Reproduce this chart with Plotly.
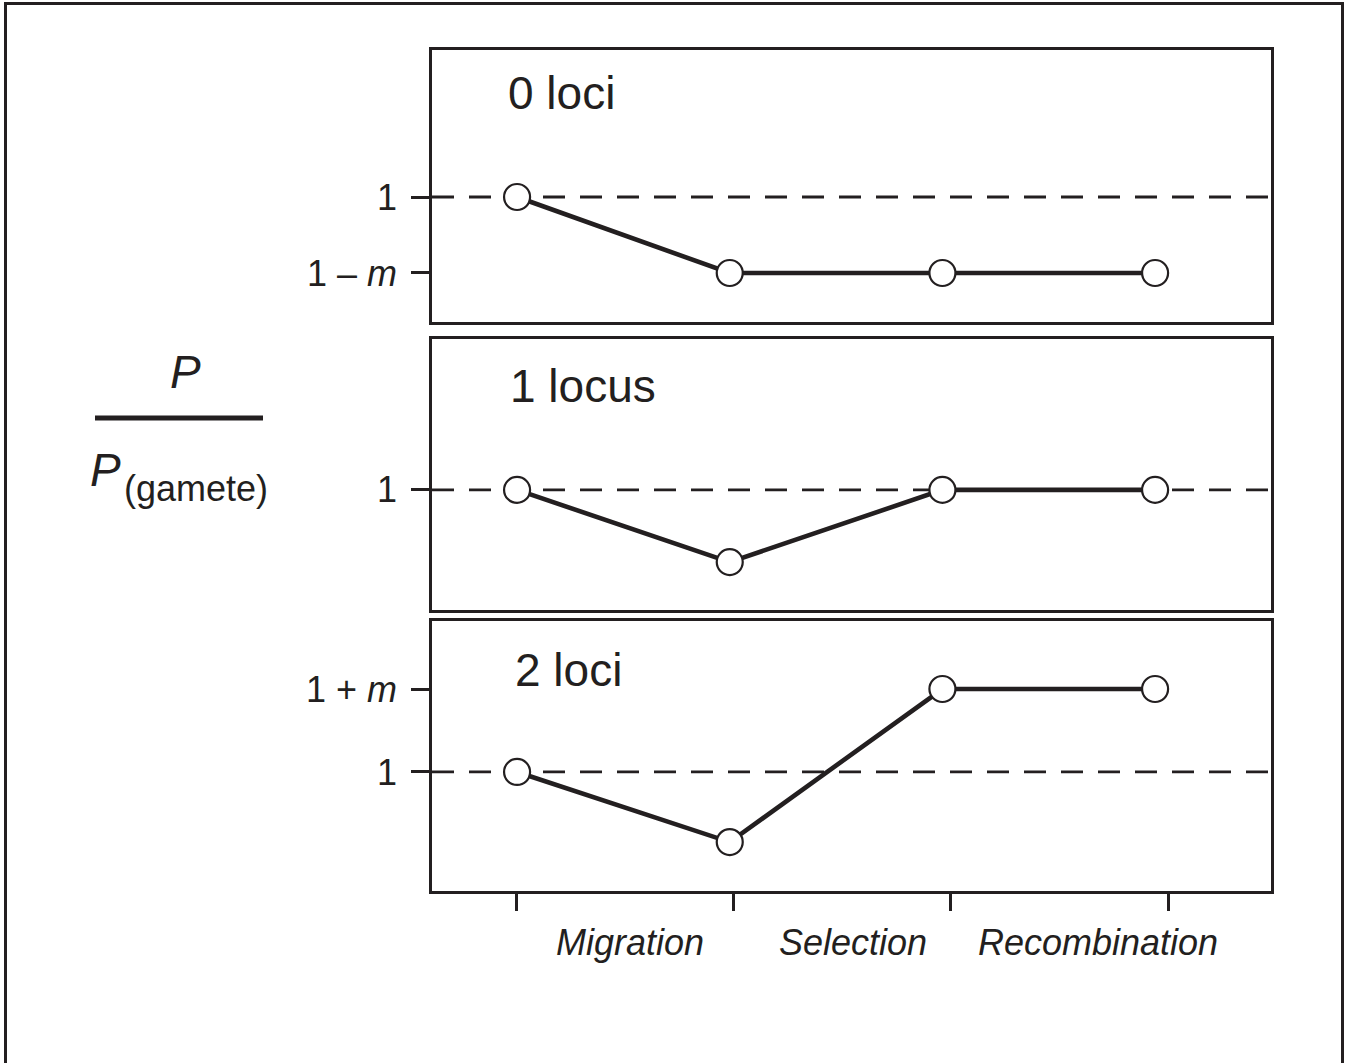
import plotly.graph_objects as go

W, H = 1345, 1063

# ---- data ----
steps = [0, 1, 2, 3]
m = 0.2
loci0 = [1.0, 0.8, 0.8, 0.8]
loci1 = [1.0, 0.81, 1.0, 1.0]
loci2 = [1.0, 0.831, 1.2, 1.2]
panel_titles = ["0 loci", "1 locus", "2 loci"]
stage_labels = ["Migration", "Selection", "Recombination"]
stage_pos = [0.524, 1.55, 2.678]

INK = "#231f20"
FONT = "Liberation Sans, Arial, Helvetica, sans-serif"

def px_x(p):
    return p / W

def px_y(p):
    return 1 - p / H

fig = go.Figure()
series = [loci0, loci1, loci2]
for i, ys in enumerate(series):
    xa = "x" if i == 0 else f"x{i+1}"
    ya = "y" if i == 0 else f"y{i+1}"
    fig.add_trace(go.Scatter(
        x=steps, y=ys, xaxis=xa, yaxis=ya, mode="lines+markers",
        line=dict(color=INK, width=4.6),
        marker=dict(symbol="circle", size=26, color="white",
                    line=dict(color=INK, width=2.2)),
        showlegend=False, hoverinfo="skip", cliponaxis=False))

# domains (pixel bounds)
ydoms = [(50, 322), (339, 610), (621, 891)]
yranges = [(0.671, 1.387), (0.684, 1.397), (0.713, 1.364)]
ytickv = [[1.0, 0.8], [1.0], [1.2, 1.0]]
ytickt = [["1", "1 – <i>m</i>"], ["1"], ["1 + <i>m</i>", "1"]]
xdom = [px_x(432), px_x(1271)]

layout = dict(
    width=W, height=H,
    margin=dict(l=0, r=0, t=0, b=0),
    paper_bgcolor="white", plot_bgcolor="white",
    template="none",
    showlegend=False,
)

for i in range(3):
    sx = "" if i == 0 else str(i + 1)
    top, bot = ydoms[i]
    layout[f"xaxis{sx}"] = dict(
        domain=xdom, range=[-0.4, 3.545], anchor=f"y{sx}",
        showline=True, mirror=True, linecolor=INK, linewidth=2.5,
        showgrid=False, zeroline=False, ticks="", showticklabels=False,
        fixedrange=True)
    layout[f"yaxis{sx}"] = dict(
        domain=[px_y(bot), px_y(top)], range=list(yranges[i]),
        anchor=f"x{sx}",
        showline=True, mirror=True, linecolor=INK, linewidth=2.5,
        showgrid=False, zeroline=False,
        tickmode="array", tickvals=ytickv[i], ticktext=ytickt[i],
        ticks="outside", ticklen=18, tickwidth=3, tickcolor=INK,
        ticklabelstandoff=7,
        tickfont=dict(family=FONT, size=36, color=INK),
        fixedrange=True)

# bottom tick axis
layout["xaxis4"] = dict(
    domain=xdom, range=[-0.387, 3.474], anchor="y3", overlaying="x3",
    showline=False, showgrid=False, zeroline=False,
    tickmode="array", tickvals=steps, ticktext=["", "", "", ""],
    ticks="outside", ticklen=19, tickwidth=2.5, tickcolor=INK,
    showticklabels=True, fixedrange=True)

fig.update_layout(**layout)

shapes = []
# dashed reference lines at 1
for i in range(3):
    sx = "" if i == 0 else str(i + 1)
    shapes.append(dict(type="line", xref="paper", yref=f"y{sx}",
                       x0=px_x(432), x1=px_x(1270), y0=1, y1=1,
                       line=dict(color=INK, width=2.8, dash="22px,15px"),
                       layer="below"))
# fraction bar
shapes.append(dict(type="line", xref="paper", yref="paper",
                   x0=px_x(95), x1=px_x(263), y0=px_y(418), y1=px_y(418),
                   line=dict(color=INK, width=5)))
# outer frame
shapes.append(dict(type="rect", xref="paper", yref="paper",
                   x0=px_x(5.5), x1=px_x(1342.5), y0=px_y(1080), y1=px_y(3.5),
                   line=dict(color=INK, width=3), fillcolor="rgba(0,0,0,0)"))

ann = []
title_pos = [(506, 93), (508, 386), (513, 670)]
for t, (x, y) in zip(panel_titles, title_pos):
    ann.append(dict(text=t, xref="paper", yref="paper", x=px_x(x), y=px_y(y),
                    xanchor="left", yanchor="middle", showarrow=False,
                    font=dict(family=FONT, size=46, color=INK)))
for lab, xp in zip(stage_labels, stage_pos):
    ann.append(dict(text=f"<i>{lab}</i>", xref="x4", yref="paper", x=xp, y=px_y(942),
                    xanchor="center", yanchor="middle", showarrow=False,
                    font=dict(family=FONT, size=36, color=INK)))
# y label as a fraction
ann.append(dict(text="<i>P</i>", xref="paper", yref="paper", x=px_x(185), y=px_y(372),
                xanchor="center", yanchor="middle", showarrow=False,
                font=dict(family=FONT, size=46, color=INK)))
ann.append(dict(text="<i>P</i>", xref="paper", yref="paper", x=px_x(88), y=px_y(470),
                xanchor="left", yanchor="middle", showarrow=False,
                font=dict(family=FONT, size=46, color=INK)))
ann.append(dict(text="(gamete)", xref="paper", yref="paper", x=px_x(122), y=px_y(488),
                xanchor="left", yanchor="middle", showarrow=False,
                font=dict(family=FONT, size=36, color=INK)))

fig.update_layout(shapes=shapes, annotations=ann)

fig.write_html("out.html", config={"displayModeBar": False},
               post_script="document.body.style.margin='0px';document.body.style.overflow='hidden';")
